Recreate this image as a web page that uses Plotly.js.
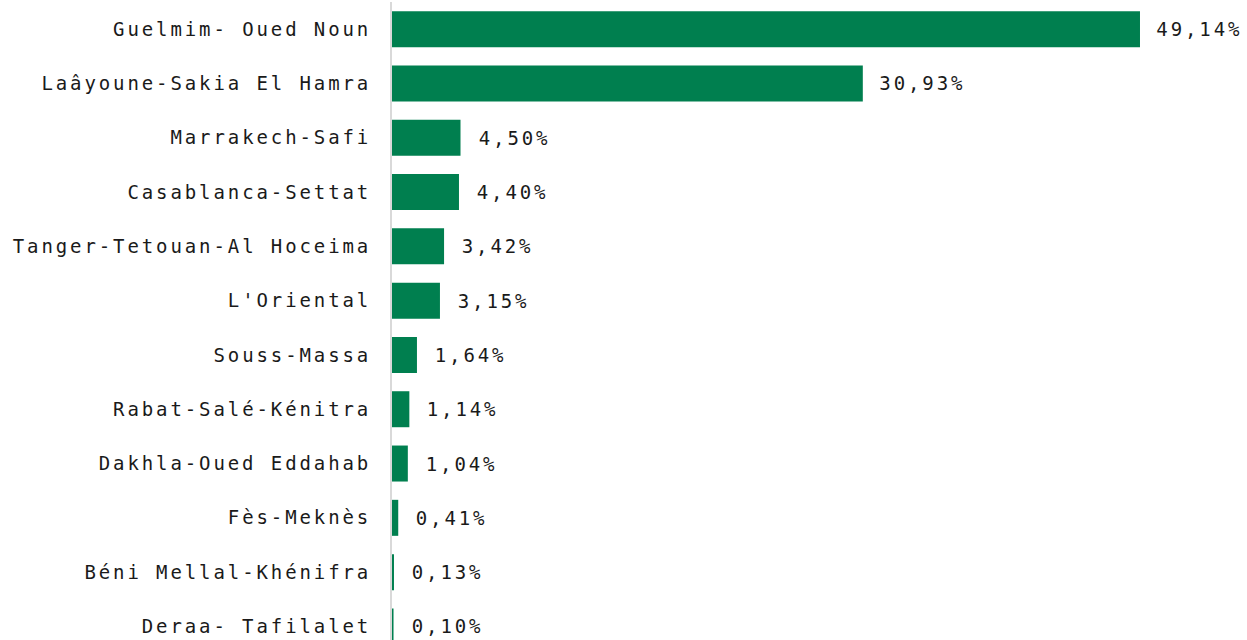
<!DOCTYPE html>
<html><head><meta charset="utf-8">
<script src="https://cdn.plot.ly/plotly-3.0.1.min.js"></script>
<style>
html,body{margin:0;padding:0;overflow:hidden;background:#fff;}
.main-svg text{letter-spacing:2.9px;}
</style></head>
<body><div id="chart" style="width:1247px;height:640px;"></div>
<script>
const regions = ["Guelmim- Oued Noun","Laâyoune-Sakia El Hamra","Marrakech-Safi","Casablanca-Settat","Tanger-Tetouan-Al Hoceima","L'Oriental","Souss-Massa","Rabat-Salé-Kénitra","Dakhla-Oued Eddahab","Fès-Meknès","Béni Mellal-Khénifra","Deraa- Tafilalet"];
const shares = [49.14,30.93,4.50,4.40,3.42,3.15,1.64,1.14,1.04,0.41,0.13,0.10];
const labels = shares.map(v => v.toFixed(2).replace(".", ",") + "%");
const font = "DejaVu Sans Mono, Liberation Mono, monospace";
const annotations = shares.map((v, i) => ({
  x: v, y: regions[i], xref: "x", yref: "y", text: labels[i],
  showarrow: false, xanchor: "left", yanchor: "middle", xshift: 23,
  font: {family: font, size: 19, color: "#1a1a1a"}
}));
Plotly.newPlot("chart", [{
  type: "bar", orientation: "h", y: regions, x: shares,
  marker: {color: "#007F4F"},
  hoverinfo: "skip"
}], {
  width: 1247, height: 640,
  margin: {l: 392, r: 0, t: 2, b: 0},
  paper_bgcolor: "#fff", plot_bgcolor: "#fff",
  bargap: 0.337, showlegend: false,
  annotations: annotations,
  xaxis: {range: [0, 56.17], visible: false, showgrid: false, zeroline: false},
  yaxis: {type: "category", range: [11.25, -0.5], showgrid: false, zeroline: false,
    showline: true, linecolor: "#d9d9d9", linewidth: 2, ticks: "", ticklabelstandoff: 15,
    tickfont: {family: font, size: 19, color: "#1a1a1a"}}
}, {displayModeBar: false, staticPlot: true});
</script></body></html>
